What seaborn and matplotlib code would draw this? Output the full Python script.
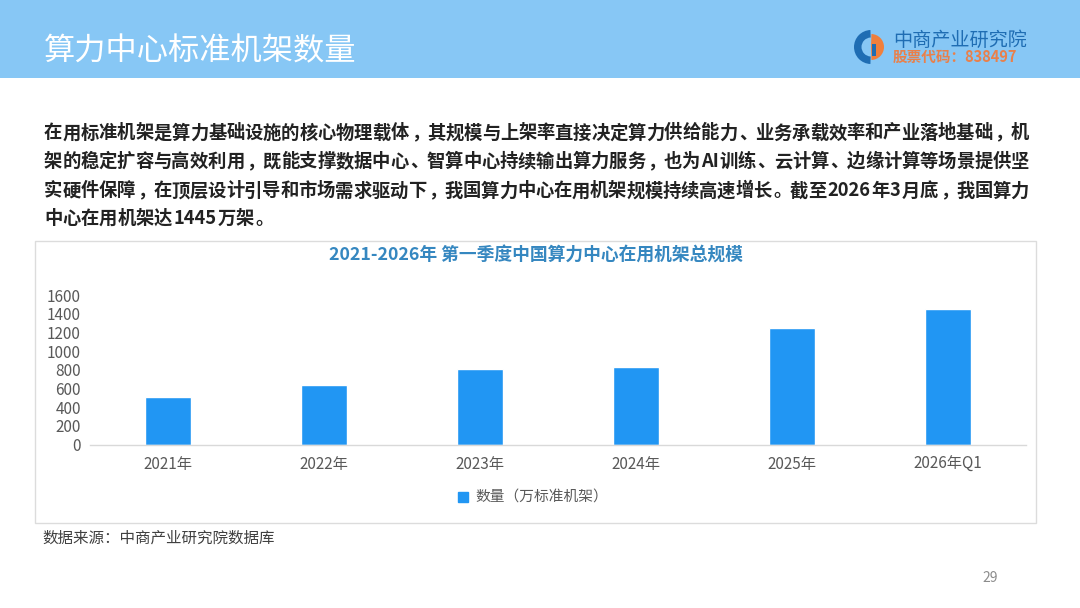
import re
import matplotlib
matplotlib.use("Agg")
import matplotlib.pyplot as plt
from matplotlib.patches import Rectangle, Wedge, Patch
import numpy as np
import pandas as pd
import seaborn as sns

# ---------------- data ----------------
categories = ["2021年", "2022年", "2023年", "2024年", "2025年", "2026年Q1"]
values = [505, 640, 805, 827, 1250, 1445]
y_ticks = [0, 200, 400, 600, 800, 1000, 1200, 1400, 1600]
series_name = "数量（万标准机架）"

page_title = "算力中心标准机架数量"
chart_title = "2021-2026年 第一季度中国算力中心在用机架总规模"
source_text = "数据来源：中商产业研究院数据库"
paragraph_lines = [
    "在用标准机架是算力基础设施的核心物理载体，其规模与上架率直接决定算力供给能力、业务承载效率和产业落地基础，机",
    "架的稳定扩容与高效利用，既能支撑数据中心、智算中心持续输出算力服务，也为AI训练、云计算、边缘计算等场景提供坚",
    "实硬件保障，在顶层设计引导和市场需求驱动下，我国算力中心在用机架规模持续高速增长。截至2026年3月底，我国算力",
    "中心在用机架达1445万架。",
]
logo_name = "中商产业研究院"
logo_code = "股票代码：838497"
page_no = "29"

# ---------------- style ----------------
sns.set_theme(style="white")
plt.rcParams["font.family"] = ["Noto Sans CJK SC", "DejaVu Sans"]

BAR = "#2196F3"
W, H = 1080, 608
fig = plt.figure(figsize=(W / 100, H / 100), dpi=100)
fig.patch.set_facecolor("white")

# overlay axes in pixel coordinates
bg = fig.add_axes([0, 0, 1, 1], zorder=0)
bg.set_xlim(0, W)
bg.set_ylim(H, 0)
bg.axis("off")

# header band
bg.add_patch(Rectangle((0, 0), W, 78, color="#87C7F5", lw=0))
bg.text(44, 51, page_title, color="white", fontsize=22.5, ha="left", va="center")

# logo
cx, cy = 871, 47
bg.add_patch(Wedge((cx, cy), 17, 92, 268, width=7.5, color="#1F6DB3", lw=0))
bg.add_patch(Wedge((cx, cy), 13, -88, 88, color="#F07F3C", lw=0))
bg.add_patch(Rectangle((cx + 1, cy - 3), 3.5, 12, color="#1F6DB3", lw=0))
bg.text(893, 40, logo_name, color="#1F6DB3", fontsize=13.8, ha="left", va="center")

renderer = fig.canvas.get_renderer()


def place_line(s, x0, y_base, x1=None, fs=13.2, **kw):
    em = fs * 100 / 72
    toks = re.findall(r"[A-Za-z0-9]+|.", s)
    widths = []
    for t in toks:
        if re.match(r"[A-Za-z0-9]", t):
            tt = bg.text(0, 0, t, fontsize=fs, **kw)
            widths.append(tt.get_window_extent(renderer).width + 0.1 * em)
            tt.remove()
        else:
            widths.append(em)
    gap = 0.0
    if x1 is not None and len(toks) > 1:
        gap = (x1 - x0 - sum(widths)) / (len(toks) - 1)
    x = x0
    for t, w in zip(toks, widths):
        if re.match(r"[A-Za-z0-9]", t):
            bg.text(x + 0.05 * em, y_base, t, fontsize=fs, ha="left", va="baseline", **kw)
        elif t in "，、。：；":
            bg.text(x + 0.1 * em, y_base, t, fontsize=fs, ha="left", va="baseline", **kw)
        else:
            bg.text(x + w / 2, y_base, t, fontsize=fs, ha="center", va="baseline", **kw)
        x += w + gap


# logo stock code (letter-spaced)
bg.text(893, 57, logo_code, color="#E9804A", fontsize=10.5, fontweight="bold",
        ha="left", va="center")

# justified paragraph
baselines = [138.5, 167, 196.5, 224]
for i, (line, yb) in enumerate(zip(paragraph_lines, baselines)):
    x1 = 1029 if i < len(paragraph_lines) - 1 else None
    place_line(line, 44, yb, x1, color="#222222", fontweight="bold")

# chart box
bg.add_patch(Rectangle((35, 241), 1001, 281.5, fill=False, ec="#DCDCDC", lw=1))
bg.text(536, 256, chart_title, color="#3587C0", fontsize=12.8, fontweight="bold",
        ha="center", va="center")

# source and page no
bg.text(42, 538, source_text, color="#404040", fontsize=11.2, ha="left", va="center")
bg.text(990, 578, page_no, color="#8C8C8C", fontsize=10, ha="center", va="center")

# ---------------- bar chart ----------------
ax = fig.add_axes([90 / W, 1 - 444.5 / H, 936 / W, 149.5 / H], zorder=2)
ax.patch.set_alpha(0)
df = pd.DataFrame({"category": categories, "value": values})
sns.barplot(data=df, x="category", y="value", ax=ax, color=BAR, width=0.29,
            saturation=1)
ax.set_xlim(-0.5, len(categories) - 0.5)
ax.set_ylim(0, 1600)
ax.set_yticks(y_ticks)
ax.set_yticklabels([str(v) for v in y_ticks])
ax.set_xlabel("")
ax.set_ylabel("")
ax.grid(False)
ax.tick_params(axis="y", length=0, pad=6.5, labelsize=11, labelcolor="#595959")
ax.tick_params(axis="x", length=0, pad=8, labelsize=11, labelcolor="#595959")
for side in ["left", "top", "right"]:
    ax.spines[side].set_visible(False)
ax.spines["bottom"].set_color("#D9D9D9")
ax.spines["bottom"].set_linewidth(1)

fig.legend(handles=[Patch(color=BAR, label=series_name)], loc="center",
           bbox_to_anchor=(533 / W, 1 - 498 / H), frameon=False, fontsize=10.6,
           handlelength=0.65, handleheight=0.65, handletextpad=0.5,
           labelcolor="#595959")

fig.savefig("out.png", dpi=100, facecolor="white")
